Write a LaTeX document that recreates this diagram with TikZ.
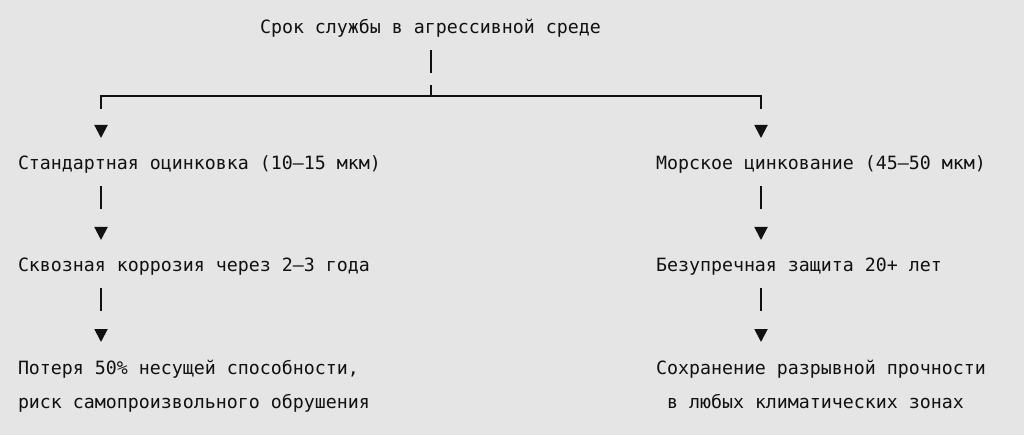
\documentclass[tikz,border=0pt]{standalone}
\usepackage{fontspec}
\setmonofont{DejaVu Sans Mono}
\usetikzlibrary{arrows.meta,calc}
\definecolor{bg}{HTML}{E5E5E5}
\definecolor{ink}{HTML}{111111}
\begin{document}
\begin{tikzpicture}[x=1pt,y=-1pt,
  txt/.style={anchor=base west, inner sep=0pt, outer sep=0pt, text=ink,
    font=\ttfamily\fontsize{18.27pt}{34pt}\selectfont},
  wire/.style={draw=ink, line width=1.9pt},
  tri/.style={-{Triangle[length=13pt,width=13pt]}},
  conn/.style={wire, tri, dash pattern=on 23pt off 200pt},
  topconn/.style={wire, tri, dash pattern=on 13pt off 200pt}]
\fill[bg] (0,0) rectangle (1024,435);
\useasboundingbox (0,0) rectangle (1024,435);

% texts
\node[txt] (t)   at (260,34)  {Срок службы в агрессивной среде};
\node[txt] (a1)  at (18,170)  {Стандартная оцинковка (10–15 мкм)};
\node[txt] (a2)  at (18,272)  {Сквозная коррозия через 2–3 года};
\node[txt] (a3)  at (18,374)  {Потеря 50\% несущей способности,};
\node[txt] (a3b) at (18,408)  {риск самопроизвольного обрушения};
\node[txt] (b1)  at (656,170) {Морское цинкование (45–50 мкм)};
\node[txt] (b2)  at (656,272) {Безупречная защита 20+ лет};
\node[txt] (b3)  at (656,374) {Сохранение разрывной прочности};
\node[txt] (b3b) at (667,408) {в любых климатических зонах};

% junction points
\coordinate (j)  at (431,96);
\coordinate (cl) at (101,96);
\coordinate (cr) at (761,96);

% title to bus
\draw[wire] ($(t.base -| j)+(0,16)$) -- ++(0,23);
\draw[wire] ($(j)+(0,-11)$) -- (j);
\draw[wire] ($(cl)+(0,13)$) -- (cl) -- (cr) -- ($(cr)+(0,13)$);
\draw[topconn] (cl) -- ($(a1.base -| cl)+(0,-32)$);
\draw[topconn] (cr) -- ($(b1.base -| cr)+(0,-32)$);

% columns
\draw[conn] ($(a1.base -| cl)+(0,16)$) -- ($(a2.base -| cl)+(0,-32)$);
\draw[conn] ($(a2.base -| cl)+(0,16)$) -- ($(a3.base -| cl)+(0,-32)$);
\draw[conn] ($(b1.base -| cr)+(0,16)$) -- ($(b2.base -| cr)+(0,-32)$);
\draw[conn] ($(b2.base -| cr)+(0,16)$) -- ($(b3.base -| cr)+(0,-32)$);
\end{tikzpicture}
\end{document}
